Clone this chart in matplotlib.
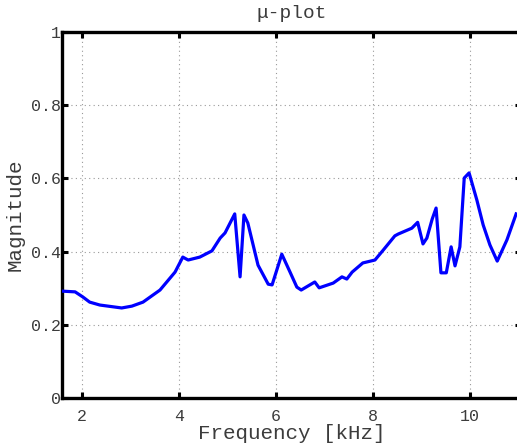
import numpy as np
import matplotlib
matplotlib.use('Agg')
import matplotlib.pyplot as plt

# mu-plot data (frequency in kHz, magnitude)
freq = [1.59, 1.86, 2.02, 2.16, 2.37, 2.82, 3.03, 3.26, 3.61, 3.92,
        4.08, 4.19, 4.43, 4.68, 4.85, 4.95, 5.15, 5.26, 5.34, 5.42,
        5.63, 5.84, 5.92, 6.12, 6.29, 6.43, 6.52, 6.80, 6.89, 7.18,
        7.36, 7.46, 7.57, 7.79, 8.04, 8.21, 8.45, 8.52, 8.66, 8.80,
        8.92, 9.03, 9.11, 9.22, 9.30, 9.40, 9.51, 9.61, 9.69, 9.79,
        9.88, 9.98, 10.14, 10.27, 10.41, 10.56, 10.76, 10.95]
mag = [0.292, 0.290, 0.276, 0.262, 0.254, 0.246, 0.251, 0.262, 0.295, 0.344,
       0.385, 0.377, 0.385, 0.402, 0.437, 0.451, 0.503, 0.331, 0.500, 0.478,
       0.363, 0.311, 0.309, 0.393, 0.344, 0.303, 0.295, 0.317, 0.301, 0.314,
       0.331, 0.325, 0.344, 0.369, 0.377, 0.404, 0.443, 0.448, 0.456, 0.464,
       0.480, 0.421, 0.437, 0.489, 0.519, 0.342, 0.342, 0.413, 0.361, 0.413,
       0.601, 0.615, 0.541, 0.473, 0.418, 0.374, 0.432, 0.503]

xticks = [2, 4, 6, 8, 10]
yticks = [0, 0.2, 0.4, 0.6, 0.8, 1]
ytick_labels = ['0', '0.2', '0.4', '0.6', '0.8', '1']

plt.rcParams['font.family'] = ['Liberation Mono', 'DejaVu Sans Mono']
text_color = '#3c3c3c'

fig = plt.figure(figsize=(5.17, 4.48), dpi=100)
# axes runs past the right edge of the figure, like the cropped original
ax = fig.add_axes([62 / 517, 50 / 448, 459 / 517, 366 / 448])

ax.plot(freq, mag, color='#0000ff', linewidth=2.3, zorder=3)
ax.axhline(-0.004, color='#008000', linewidth=1.2, clip_on=False, zorder=4)

ax.set_xlim(1.59, 11.05)
ax.set_ylim(0, 1)
ax.set_xticks(xticks)
ax.set_yticks(yticks)
ax.set_yticklabels(ytick_labels)

ax.grid(True, linestyle=(0, (1, 3)), color='#999999', linewidth=0.8)
ax.set_axisbelow(True)

for side in ['left', 'top', 'bottom', 'right']:
    ax.spines[side].set_linewidth(2.4)
    ax.spines[side].set_color('black')
ax.spines['bottom'].set_zorder(5)

ax.tick_params(direction='in', length=4, width=2.2, colors='black',
               labelcolor=text_color, labelsize=12, top=True, right=True)
ax.tick_params(axis='x', pad=8)
ax.tick_params(axis='y', pad=1)

ax.set_xlabel('Frequency [kHz]', fontsize=15, color=text_color, labelpad=0)
ax.set_ylabel('Magnitude', fontsize=15, color=text_color, labelpad=4)
ax.set_title('\u03bc-plot', fontsize=14, color=text_color, pad=10)

fig.savefig('out.png', dpi=100)
